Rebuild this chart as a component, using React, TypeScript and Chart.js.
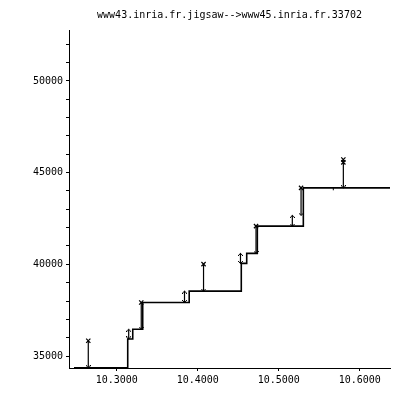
import { useEffect, useRef } from 'react';
import { Chart, registerables } from 'chart.js';

Chart.register(...registerables);

const TITLE = 'www43.inria.fr.jigsaw-->www45.inria.fr.33702';

// axis ticks
const xTickValues = [10.3, 10.4, 10.5, 10.6];
const yTickValues = [
  35000, 36000, 37000, 38000, 39000, 40000, 41000, 42000, 43000,
  44000, 45000, 46000, 47000, 48000, 49000, 50000, 51000, 52000,
];
const yLabelValues = [35000, 40000, 45000, 50000];
const xRange = [10.2411, 10.6374];
const yRange = [34346, 52780];

// ack (step) line
const ackTimes = [10.2473, 10.3136, 10.3198, 10.3321, 10.3895, 10.4538, 10.4605, 10.4736, 10.5304, 10.6374];
const ackSeqs = [34360, 35930, 36460, 37920, 38540, 40050, 40600, 42085, 44170, 44170];

// short data segments (double-headed arrows)
const segTimes = [10.3148, 10.3837, 10.4528, 10.5168];
const segLow = [35930, 37920, 40050, 42085];
const segHigh = [36460, 38540, 40600, 42670];

// tall segments (x mark on top, arrow at bottom)
const tallTimes = [10.2649, 10.3303, 10.4072, 10.4720, 10.5276, 10.5798];
const tallLow = [34360, 36460, 38540, 40600, 42670, 44170];
const tallHigh = [35830, 37920, 40010, 42085, 44170, 45720];

// extra marks
const extraMarkTimes = [10.5798];
const extraMarkSeqs = [45560];
const tickMarkTimes = [10.5674];
const tickMarkSeqs = [44120];

function makeChevron(up: boolean): HTMLCanvasElement {
  const c = document.createElement('canvas');
  c.width = 5;
  c.height = 5;
  const g = c.getContext('2d')!;
  g.fillStyle = '#000';
  const px = up
    ? [[2, 2], [1, 3], [3, 3], [0, 4], [4, 4]]
    : [[2, 2], [1, 1], [3, 1], [0, 0], [4, 0]];
  px.forEach(([x, y]) => g.fillRect(x, y, 1, 1));
  return c;
}

export default function App() {
  const ref = useRef<HTMLCanvasElement | null>(null);

  useEffect(() => {
    const canvas = ref.current;
    if (!canvas) return;
    const upHead = makeChevron(true);
    const downHead = makeChevron(false);
    const font = { family: 'DejaVu Sans Mono', size: 10 };

    const shafts: any[] = [];
    segTimes.forEach((t, i) => {
      shafts.push({ x: t, y: segLow[i] }, { x: t, y: segHigh[i] }, { x: t, y: null });
    });
    tallTimes.forEach((t, i) => {
      shafts.push({ x: t, y: tallLow[i] }, { x: t, y: tallHigh[i] }, { x: t, y: null });
    });

    const chart = new Chart(canvas, {
      type: 'line',
      data: {
        datasets: [
          {
            data: shafts,
            borderColor: '#000',
            borderWidth: 1.2,
            pointRadius: 0,
            spanGaps: false,
          },
          {
            data: ackTimes.map((t, i) => ({ x: t, y: ackSeqs[i] })),
            borderColor: '#000',
            borderWidth: 1.6,
            pointRadius: 0,
            stepped: 'before',
          },
          {
            data: segTimes.map((t, i) => ({ x: t, y: segHigh[i] })),
            showLine: false,
            pointStyle: upHead,
            pointRadius: 2,
          },
          {
            data: [
              ...segTimes.map((t, i) => ({ x: t, y: segLow[i] })),
              ...tallTimes.map((t, i) => ({ x: t, y: tallLow[i] })),
            ],
            showLine: false,
            pointStyle: downHead,
            pointRadius: 2,
          },
          {
            data: [
              ...tallTimes.map((t, i) => ({ x: t, y: tallHigh[i] })),
              ...extraMarkTimes.map((t, i) => ({ x: t, y: extraMarkSeqs[i] })),
            ],
            showLine: false,
            pointStyle: 'crossRot',
            pointRadius: 3,
            pointBorderColor: '#000',
            pointBorderWidth: 1.2,
          },
          {
            data: tickMarkTimes.map((t, i) => ({ x: t, y: tickMarkSeqs[i] })),
            showLine: false,
            pointStyle: 'line',
            pointRotation: 90,
            pointRadius: 1.5,
            pointBorderColor: '#000',
            pointBorderWidth: 1,
          },
        ] as any,
      },
      options: {
        animation: false,
        responsive: false,
        events: [],
        layout: { padding: { left: 0, right: 8, top: 0, bottom: 0 } },
        plugins: {
          legend: { display: false },
          tooltip: { enabled: false },
          title: {
            display: true,
            text: TITLE,
            color: '#000',
            font: { ...font, weight: 'normal' },
            padding: { top: 9, bottom: 9 },
            fullSize: false,
          },
        },
        scales: {
          x: {
            type: 'linear',
            min: xRange[0],
            max: xRange[1],
            afterBuildTicks: (s: any) => {
              s.ticks = xTickValues.map((v) => ({ value: v }));
            },
            afterFit: (s: any) => {
              s.height = 29;
            },
            ticks: {
              color: '#000',
              font,
              padding: 3,
              maxRotation: 0,
              autoSkip: false,
              callback: (v: any) => Number(v).toFixed(4),
            },
            grid: { display: true, drawOnChartArea: false, drawTicks: true, tickLength: 3, color: '#000', lineWidth: 1 },
            border: { display: true, color: '#000', width: 1 },
          },
          y: {
            type: 'linear',
            min: yRange[0],
            max: yRange[1],
            afterBuildTicks: (s: any) => {
              s.ticks = yTickValues.map((v) => ({ value: v }));
            },
            afterFit: (s: any) => {
              s.width = 69;
            },
            ticks: {
              color: '#000',
              font,
              padding: 3,
              autoSkip: false,
              callback: (v: any) => (yLabelValues.includes(Number(v)) ? String(v) : ''),
            },
            grid: { display: true, drawOnChartArea: false, drawTicks: true, tickLength: 3, color: '#000', lineWidth: 1 },
            border: { display: true, color: '#000', width: 1 },
          },
        },
      } as any,
    });
    return () => chart.destroy();
  }, []);

  return (
    <div style={{ position: 'fixed', left: 0, top: 0, width: 398, height: 397, background: '#fff' }}>
      <canvas ref={ref} width={398} height={397} style={{ display: 'block' }} />
    </div>
  );
}
